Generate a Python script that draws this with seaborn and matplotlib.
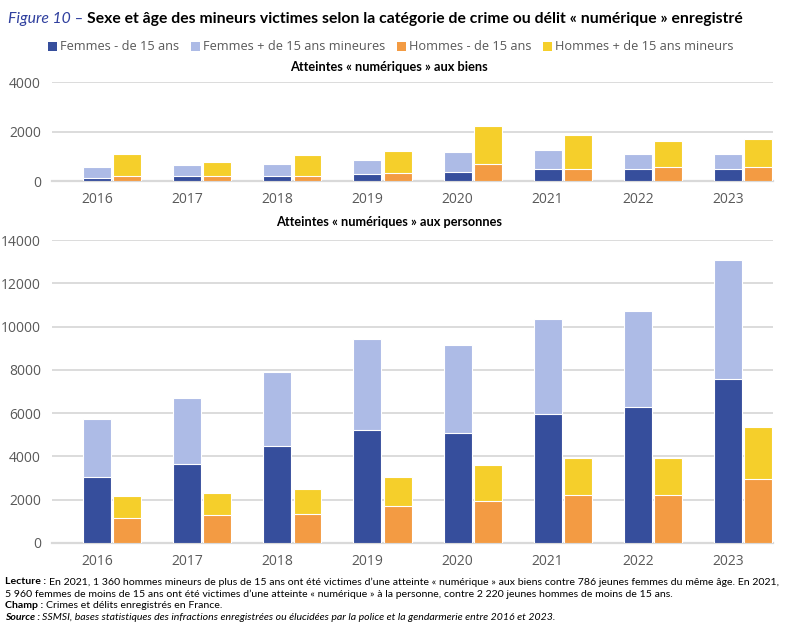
import numpy as np
import matplotlib
matplotlib.use("Agg")
import matplotlib.pyplot as plt
import seaborn as sns
from matplotlib.patches import Patch

years = ["2016", "2017", "2018", "2019", "2020", "2021", "2022", "2023"]

# Atteintes « numériques » aux biens
biens_f_moins15 = [135, 200, 200, 270, 378, 480, 480, 480]
biens_f_plus15 = [432, 434, 488, 594, 783, 786, 620, 620]
biens_h_moins15 = [216, 200, 200, 337, 675, 500, 567, 567]
biens_h_plus15 = [877, 556, 853, 878, 1553, 1360, 1066, 1134]

# Atteintes « numériques » aux personnes
pers_f_moins15 = [3050, 3650, 4470, 5210, 5070, 5960, 6290, 7590]
pers_f_plus15 = [2700, 3040, 3440, 4210, 4070, 4390, 4410, 5490]
pers_h_moins15 = [1160, 1280, 1340, 1700, 1940, 2220, 2220, 2960]
pers_h_plus15 = [1000, 1020, 1170, 1340, 1650, 1710, 1730, 2390]

labels = ["Femmes - de 15 ans", "Femmes + de 15 ans mineures",
          "Hommes - de 15 ans", "Hommes + de 15 ans mineurs"]
colors = ["#364e9c", "#adbbe6", "#f39b43", "#f5cf2b"]

sns.set_theme(style="white")
plt.rcParams["font.family"] = ["Lato", "DejaVu Sans"]

W, H = 786, 629
fig = plt.figure(figsize=(W / 100, H / 100), dpi=100)

def ax_rect(x0, y0, x1, y1):
    return [x0 / W, 1 - y1 / H, (x1 - x0) / W, (y1 - y0) / H]

ax1 = fig.add_axes(ax_rect(52, 82.3, 773, 181))
ax2 = fig.add_axes(ax_rect(52, 240, 773, 543))

grey_txt = "#595959"
offset = 0.335
bw = 0.31

def draw(ax, fm, fp, hm, hp, ymax, step):
    x = np.arange(len(years))
    ftot = np.array(fm) + np.array(fp)
    htot = np.array(hm) + np.array(hp)
    kw = dict(native_scale=True, errorbar=None, width=bw, ax=ax,
              linewidth=0.8, edgecolor="white", zorder=3)
    sns.barplot(x=x, y=ftot, color=colors[1], saturation=1, **kw)
    sns.barplot(x=x, y=np.array(fm), color=colors[0], saturation=1, **kw)
    sns.barplot(x=x + offset, y=htot, color=colors[3], saturation=1, **kw)
    sns.barplot(x=x + offset, y=np.array(hm), color=colors[2], saturation=1, **kw)
    ax.set_xlim(-0.5, 7.5)
    ax.set_ylim(0, ymax)
    ax.set_yticks(np.arange(0, ymax + 1, step))
    ax.set_yticklabels([str(v) for v in np.arange(0, ymax + 1, step)])
    ax.set_xticks(x)
    ax.set_xticklabels(years)
    ax.grid(axis="y", color="#d9d9d9", linewidth=1.3, zorder=0)
    ax.set_axisbelow(True)
    for s in ["top", "right", "left"]:
        ax.spines[s].set_visible(False)
    ax.spines["bottom"].set_color("#d9d9d9")
    ax.spines["bottom"].set_linewidth(1.6)
    ax.tick_params(axis="both", length=0, colors=grey_txt, pad=8)
    ax.tick_params(axis="y", pad=8)
    ax.set_xlabel("")
    ax.set_ylabel("")
    for lab in ax.get_yticklabels() + ax.get_xticklabels():
        lab.set_fontfamily(["Open Sans", "DejaVu Sans"])
        lab.set_fontsize(10)

draw(ax1, biens_f_moins15, biens_f_plus15, biens_h_moins15, biens_h_plus15, 4000, 2000)
draw(ax2, pers_f_moins15, pers_f_plus15, pers_h_moins15, pers_h_plus15, 14000, 2000)

# Subtitles
fig.text(389 / W, 1 - 67 / H, "Atteintes « numériques » aux biens", ha="center",
         va="center", fontsize=9.2, fontweight="bold", color="black")
fig.text(389 / W, 1 - 222 / H, "Atteintes « numériques » aux personnes", ha="center",
         va="center", fontsize=9.2, fontweight="bold", color="black")

# Legend
handles = [Patch(facecolor=c, edgecolor="none") for c in colors]
leg = fig.legend(handles, labels, loc="center", bbox_to_anchor=(391 / W, 1 - 47 / H),
                 ncol=4, frameon=False, handlelength=0.7, handleheight=0.7,
                 handletextpad=0.25, columnspacing=0.9,
                 prop={"family": ["Open Sans", "DejaVu Sans"], "size": 9.2})
for t in leg.get_texts():
    t.set_color(grey_txt)

fig.canvas.draw()
renderer = fig.canvas.get_renderer()

def runs(x_px, y_px, parts, size):
    x = x_px / W
    for txt, kw in parts:
        t = fig.text(x, 1 - y_px / H, txt, ha="left", va="center", fontsize=size, **kw)
        bb = t.get_window_extent(renderer=renderer)
        x = (bb.x1) / W

# Title
runs(8, 19, [("Figure 10 – ", dict(style="italic", color="#2f3f9e")),
             ("Sexe et âge des mineurs victimes selon la catégorie de crime ou délit « numérique » enregistré",
              dict(fontweight="bold", color="black"))], 11.3)

fs = 7.55
runs(5, 582, [("Lecture : ", dict(fontweight="bold", color="black")),
              ("En 2021, 1 360 hommes mineurs de plus de 15 ans ont été victimes d’une atteinte « numérique » aux biens contre 786 jeunes femmes du même âge. En 2021,",
               dict(color="black"))], fs)
runs(5, 594, [("5 960 femmes de moins de 15 ans ont été victimes d’une atteinte « numérique » à la personne, contre 2 220 jeunes hommes de moins de 15 ans.",
               dict(color="black"))], fs)
runs(5, 606, [("Champ : ", dict(fontweight="bold", color="black")),
              ("Crimes et délits enregistrés en France.", dict(color="black"))], fs)
runs(5, 618, [("Source : ", dict(fontweight="bold", style="italic", color="black")),
              ("SSMSI, bases statistiques des infractions enregistrées ou élucidées par la police et la gendarmerie entre 2016 et 2023.",
               dict(style="italic", color="black"))], fs)

fig.savefig("out.png", dpi=100)
